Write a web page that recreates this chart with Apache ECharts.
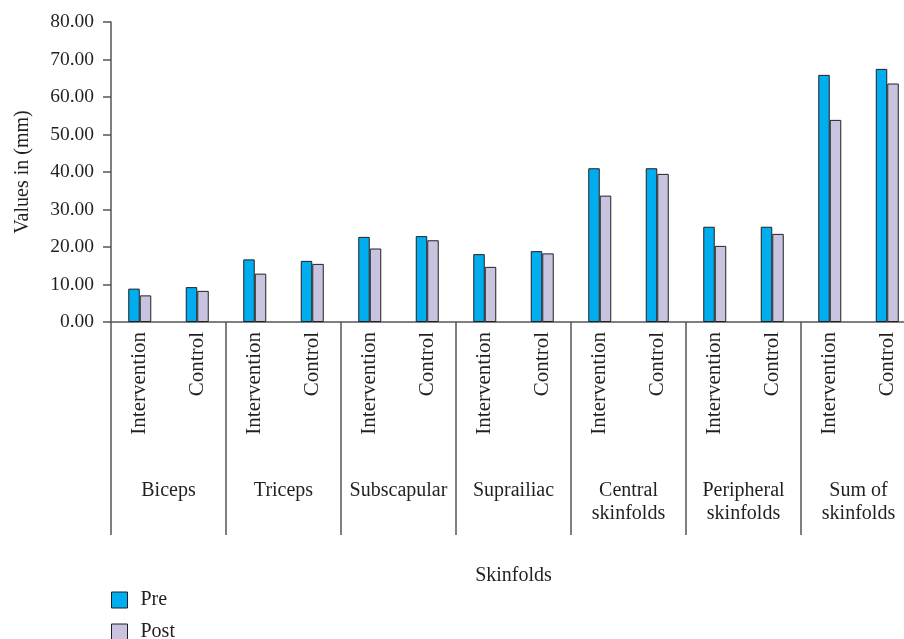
<!DOCTYPE html>
<html>
<head>
<meta charset="utf-8">
<script src="https://cdn.jsdelivr.net/npm/echarts@6/dist/echarts.min.js"></script>
<style>html,body{margin:0;padding:0;background:#fff;overflow:hidden;width:904px;height:639px;}#c{width:930px;height:680px;}</style>
</head>
<body>
<div id="c"></div>
<script>
const groups = ['Biceps', 'Triceps', 'Subscapular', 'Suprailiac', 'Central\nskinfolds', 'Peripheral\nskinfolds', 'Sum of\nskinfolds'];
const subgroups = ['Intervention', 'Control'];
const preValues = [8.9, 9.3, 16.7, 16.3, 22.7, 22.9, 18.1, 18.9, 41.0, 41.0, 25.4, 25.4, 65.9, 67.5];
const postValues = [7.1, 8.3, 12.9, 15.5, 19.6, 21.8, 14.7, 18.3, 33.7, 39.5, 20.3, 23.5, 53.9, 63.6];
const yTicks = [0, 10, 20, 30, 40, 50, 60, 70, 80];

const categories = [];
groups.forEach(() => subgroups.forEach(s => categories.push(s)));

const font = 'Liberation Serif';
const txt = '#231f20';
const axisCol = '#555555';

const chart = echarts.init(document.getElementById('c'));
chart.setOption({
  animation: false,
  textStyle: { fontFamily: font, color: txt },
  grid: { left: 111, top: 22, width: 805, height: 300, containLabel: false },
  legend: {
    orient: 'vertical', left: 111, top: 590, padding: 0, itemWidth: 16, itemHeight: 16, itemGap: 12,
    icon: 'rect',
    textStyle: { fontFamily: font, fontSize: 20, lineHeight: 20, color: txt, padding: [0, 0, 0, 8] },
    itemStyle: { borderColor: '#231f20', borderWidth: 1 },
    data: ['Pre', 'Post']
  },
  xAxis: [
    {
      type: 'category', data: categories, position: 'bottom',
      axisLine: { show: true, lineStyle: { color: axisCol, width: 1.5 } },
      axisTick: { show: false },
      axisLabel: { interval: 0, rotate: 90, margin: 10, fontFamily: font, fontSize: 21, color: txt }
    },
    {
      type: 'category', data: groups, position: 'bottom',
      name: 'Skinfolds', nameLocation: 'middle', nameGap: 244,
      nameTextStyle: { fontFamily: font, fontSize: 20, color: txt },
      axisLine: { show: false },
      axisTick: { show: true, interval: 0, length: 213, lineStyle: { color: axisCol, width: 1.5 } },
      axisLabel: { interval: 0, margin: 157, fontFamily: font, fontSize: 20, lineHeight: 23, color: txt }
    }
  ],
  yAxis: {
    type: 'value', min: 0, max: 80, interval: 10,
    name: 'Values in (mm)', nameLocation: 'middle', nameGap: 78, nameRotate: 90,
    nameTextStyle: { fontFamily: font, fontSize: 20, color: txt },
    axisLine: { show: true, lineStyle: { color: axisCol, width: 1.5 } },
    axisTick: { show: true, length: 8, lineStyle: { color: axisCol, width: 1.5 } },
    splitLine: { show: false },
    axisLabel: {
      margin: 17, fontFamily: font, fontSize: 19.5, color: txt,
      formatter: v => yTicks.includes(v) ? v.toFixed(2) : ''
    }
  },
  series: [
    {
      name: 'Pre', type: 'bar', xAxisIndex: 0, data: preValues,
      barWidth: 11.5, barGap: '0%',
      itemStyle: { color: '#00aeef', borderColor: '#231f20', borderWidth: 1 }
    },
    {
      name: 'Post', type: 'bar', xAxisIndex: 0, data: postValues,
      barWidth: 11.5, barGap: '0%',
      itemStyle: { color: '#c8c4e0', borderColor: '#231f20', borderWidth: 1 }
    }
  ]
});
</script>
</body>
</html>
